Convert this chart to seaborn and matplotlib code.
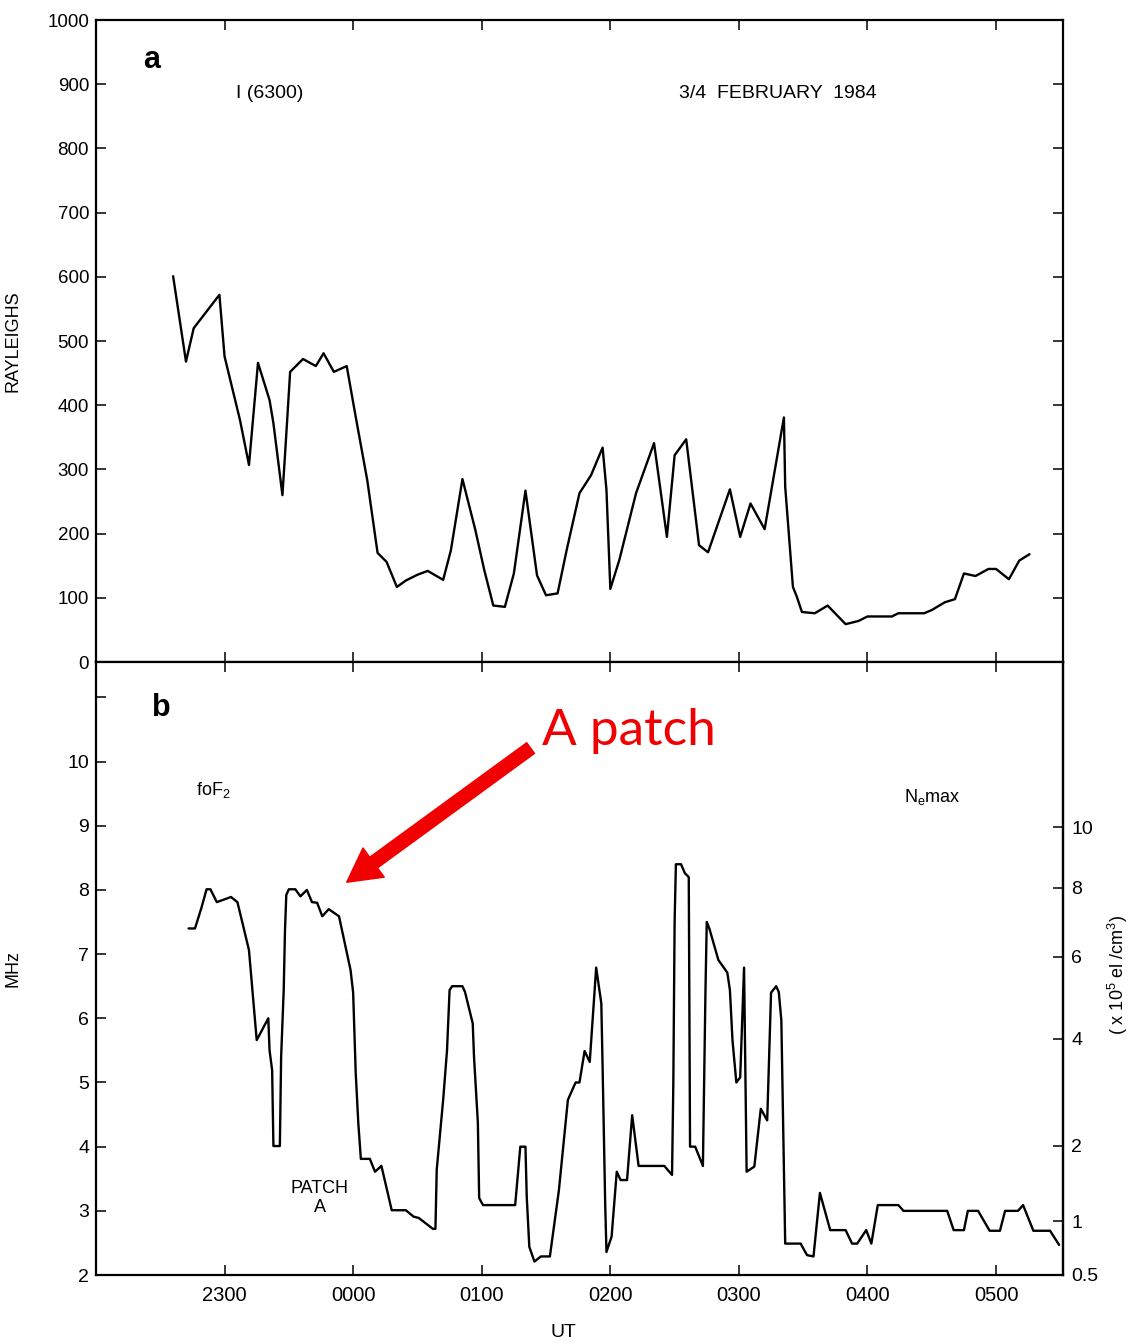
import matplotlib
matplotlib.use("Agg")
import matplotlib.pyplot as plt
import numpy as np
import pandas as pd
import seaborn as sns

# ---------------------------------------------------------------------------
# Data (UT in hours, 24 = 0000 on 4 Feb)
# ---------------------------------------------------------------------------
ut_a = [22.60, 22.70, 22.76, 22.96, 23.00, 23.12, 23.19, 23.26, 23.35, 23.38,
        23.45, 23.47, 23.51, 23.61, 23.71, 23.77, 23.85, 23.95, 24.02, 24.11,
        24.19, 24.26, 24.34, 24.41, 24.50, 24.58, 24.70, 24.76, 24.85, 24.95,
        25.02, 25.09, 25.18, 25.25, 25.34, 25.43, 25.50, 25.59, 25.66, 25.76,
        25.85, 25.94, 25.97, 26.00, 26.07, 26.20, 26.34, 26.44, 26.50, 26.59,
        26.69, 26.76, 26.93, 27.01, 27.09, 27.20, 27.35, 27.36, 27.42, 27.45,
        27.49, 27.59, 27.69, 27.83, 27.93, 28.00, 28.19, 28.24, 28.44, 28.50,
        28.60, 28.68, 28.75, 28.84, 28.94, 29.00, 29.10, 29.18, 29.26]
i6300 = [601, 468, 520, 572, 476, 377, 307, 466, 408, 372,
         260, 322, 452, 472, 461, 481, 452, 461, 382, 283,
         170, 156, 117, 127, 136, 142, 128, 174, 285, 206,
         143, 88, 86, 138, 267, 135, 104, 107, 174, 263,
         291, 334, 268, 114, 159, 263, 341, 195, 322, 347,
         182, 171, 269, 195, 247, 207, 381, 273, 117, 102,
         78, 76, 88, 59, 64, 71, 71, 76, 76, 81,
         93, 98, 138, 134, 145, 145, 129, 158, 168]

ut_b = [22.72, 22.77, 22.82, 22.86, 22.89, 22.94, 23.05, 23.10, 23.14, 23.19,
        23.22, 23.25, 23.34, 23.35, 23.37, 23.38, 23.43, 23.44, 23.46, 23.47,
        23.48, 23.50, 23.55, 23.59, 23.64, 23.68, 23.72, 23.76, 23.81, 23.89,
        23.93, 23.98, 24.00, 24.02, 24.04, 24.06, 24.13, 24.17, 24.22, 24.30,
        24.41, 24.47, 24.51, 24.62, 24.64, 24.65, 24.70, 24.73, 24.75, 24.77,
        24.85, 24.87, 24.93, 24.94, 24.97, 24.98, 25.01, 25.26, 25.30, 25.34,
        25.35, 25.37, 25.41, 25.46, 25.53, 25.60, 25.67, 25.73, 25.76, 25.80,
        25.84, 25.89, 25.93, 25.94, 25.96, 25.97, 26.01, 26.05, 26.08, 26.13,
        26.17, 26.22, 26.42, 26.48, 26.49, 26.50, 26.51, 26.55, 26.58, 26.61,
        26.62, 26.66, 26.72, 26.74, 26.75, 26.77, 26.84, 26.91, 26.93, 26.95,
        26.98, 27.01, 27.04, 27.06, 27.12, 27.17, 27.22, 27.25, 27.29, 27.31,
        27.33, 27.36, 27.48, 27.53, 27.58, 27.63, 27.71, 27.83, 27.88, 27.92,
        27.99, 28.03, 28.08, 28.24, 28.28, 28.62, 28.67, 28.75, 28.78, 28.86,
        28.95, 29.03, 29.07, 29.17, 29.21, 29.29, 29.42, 29.49]
fof2 = [7.40, 7.40, 7.72, 8.01, 8.01, 7.81, 7.89, 7.81, 7.48, 7.06,
        6.35, 5.66, 6.00, 5.50, 5.19, 4.01, 4.01, 5.40, 6.44, 7.37,
        7.92, 8.01, 8.01, 7.90, 8.00, 7.81, 7.80, 7.59, 7.70, 7.59,
        7.22, 6.75, 6.40, 5.15, 4.37, 3.81, 3.81, 3.61, 3.70, 3.01,
        3.01, 2.91, 2.89, 2.72, 2.72, 3.64, 4.73, 5.50, 6.44, 6.50,
        6.50, 6.41, 5.92, 5.40, 4.37, 3.20, 3.09, 3.09, 4.00, 4.00,
        3.22, 2.44, 2.21, 2.29, 2.29, 3.32, 4.73, 5.00, 5.00, 5.49,
        5.32, 6.79, 6.23, 5.24, 3.12, 2.36, 2.60, 3.61, 3.48, 3.48,
        4.49, 3.70, 3.70, 3.56, 4.99, 7.50, 8.40, 8.40, 8.26, 8.20,
        4.00, 4.00, 3.70, 6.44, 7.50, 7.40, 6.91, 6.71, 6.44, 5.66,
        5.00, 5.08, 6.79, 3.61, 3.69, 4.59, 4.41, 6.40, 6.50, 6.41,
        5.97, 2.49, 2.49, 2.31, 2.29, 3.28, 2.70, 2.70, 2.49, 2.49,
        2.70, 2.49, 3.09, 3.09, 3.00, 3.00, 2.70, 2.70, 3.00, 3.00,
        2.69, 2.69, 3.00, 3.00, 3.09, 2.69, 2.69, 2.47]

ut_ticks = [23, 24, 25, 26, 27, 28, 29]
ut_labels = ["2300", "0000", "0100", "0200", "0300", "0400", "0500"]
ray_ticks = [0, 100, 200, 300, 400, 500, 600, 700, 800, 900, 1000]
mhz_ticks = [2, 3, 4, 5, 6, 7, 8, 9, 10, 11]
mhz_labels = ["2", "3", "4", "5", "6", "7", "8", "9", "10", ""]
ne_ticks = [0.5, 1, 2, 4, 6, 8, 10]
ne_labels = ["0.5", "1", "2", "4", "6", "8", "10"]

# Ne max (1e5 el/cm3) = 0.124 * foF2^2 (MHz)
NE_K = 0.124


def to_ne(f):
    return NE_K * np.asarray(f, dtype=float) ** 2


def to_f(n):
    return np.sqrt(np.clip(np.asarray(n, dtype=float), 0, None) / NE_K)


sns.set_theme(style="ticks")
plt.rcParams["font.family"] = ["Liberation Sans", "DejaVu Sans"]
plt.rcParams["mathtext.fontset"] = "custom"
plt.rcParams["mathtext.rm"] = "Liberation Sans"
plt.rcParams["mathtext.it"] = "Liberation Sans"
for key in ("text.color", "axes.labelcolor", "xtick.color", "ytick.color",
            "axes.edgecolor"):
    plt.rcParams[key] = "black"

fig = plt.figure(figsize=(11.29, 13.44), dpi=100)
ax_a = fig.add_axes([0.085, 0.5074, 0.8565, 0.4777])
ax_b = fig.add_axes([0.085, 0.0513, 0.8565, 0.4561])

df_a = pd.DataFrame({"ut": ut_a, "val": i6300})
df_b = pd.DataFrame({"ut": ut_b, "val": fof2})
sns.lineplot(data=df_a, x="ut", y="val", ax=ax_a, color="black", lw=1.7,
             sort=False, estimator=None)
sns.lineplot(data=df_b, x="ut", y="val", ax=ax_b, color="black", lw=1.7,
             sort=False, estimator=None)

for ax in (ax_a, ax_b):
    ax.set_xlim(22.0, 29.52)
    ax.set_xticks(ut_ticks)
    for sp in ax.spines.values():
        sp.set_visible(True)
        sp.set_linewidth(1.6)
        sp.set_color("black")
    ax.tick_params(direction="in", length=7, width=1.1, colors="black",
                   top=True, bottom=True, left=True)

# ---- panel a ----
ax_a.set_ylim(0, 1000)
ax_a.set_yticks(ray_ticks)
ax_a.tick_params(axis="y", right=True, labelsize=13.5, pad=5)
ax_a.tick_params(axis="x", labelbottom=False)
ax_a.set_xlabel("")
ax_a.set_ylabel("RAYLEIGHS", fontsize=13)
ax_a.yaxis.set_label_coords(-0.077, 0.5)
ax_a.text(22.43, 938, "a", fontsize=22, fontweight="bold", ha="center", va="center")
ax_a.text(23.35, 886, "I (6300)", fontsize=14, ha="center", va="center")
ax_a.text(27.30, 886, "3/4  FEBRUARY  1984", fontsize=14, ha="center", va="center")

# ---- panel b ----
ax_b.set_ylim(2, 11.55)
ax_b.set_yticks(mhz_ticks)
ax_b.set_yticklabels(mhz_labels)
ax_b.tick_params(axis="y", right=False, labelsize=14, pad=5)
ax_b.set_xticklabels(ut_labels)
ax_b.tick_params(axis="x", labelsize=14.5, pad=8)
ax_b.set_ylabel("MHz", fontsize=13)
ax_b.yaxis.set_label_coords(-0.077, 0.5)
ax_b.set_xlabel("")
ax_b.text(0.483, -0.093, "UT", fontsize=14, ha="center", va="center",
          transform=ax_b.transAxes)

sec = ax_b.secondary_yaxis("right", functions=(to_ne, to_f))
sec.set_yticks(ne_ticks)
sec.set_yticklabels(ne_labels)
sec.tick_params(direction="in", length=7, width=1.1, labelsize=14, pad=6)
sec.spines["right"].set_linewidth(1.6)
ax_b.text(1.057, 0.49, r"( x 10$^5$ el /cm$^3$)", fontsize=13, rotation=90,
          ha="center", va="center", transform=ax_b.transAxes)

ax_b.text(22.51, 10.83, "b", fontsize=22, fontweight="bold", ha="center", va="center")
ax_b.text(22.91, 9.56, r"foF$_2$", fontsize=13, ha="center", va="center")
ax_b.text(28.50, 9.45, r"N$_{e}$max", fontsize=13, ha="center", va="center")
ax_b.text(23.74, 3.20, "PATCH\nA", fontsize=13, ha="center", va="center",
          linespacing=1.2)

# red annotation
ax_b.annotate("", xy=(23.95, 8.12), xytext=(25.38, 10.21),
              arrowprops=dict(arrowstyle="simple,head_length=2.4,head_width=2.6,tail_width=0.95",
                              color="#f00000", mutation_scale=10, shrinkA=0, shrinkB=0))
ax_b.text(25.47, 10.26, "A patch", fontsize=37, color="#f00000",
          family=["Lato", "DejaVu Sans"], ha="left", va="baseline")

fig.savefig("out.png", dpi=100)
